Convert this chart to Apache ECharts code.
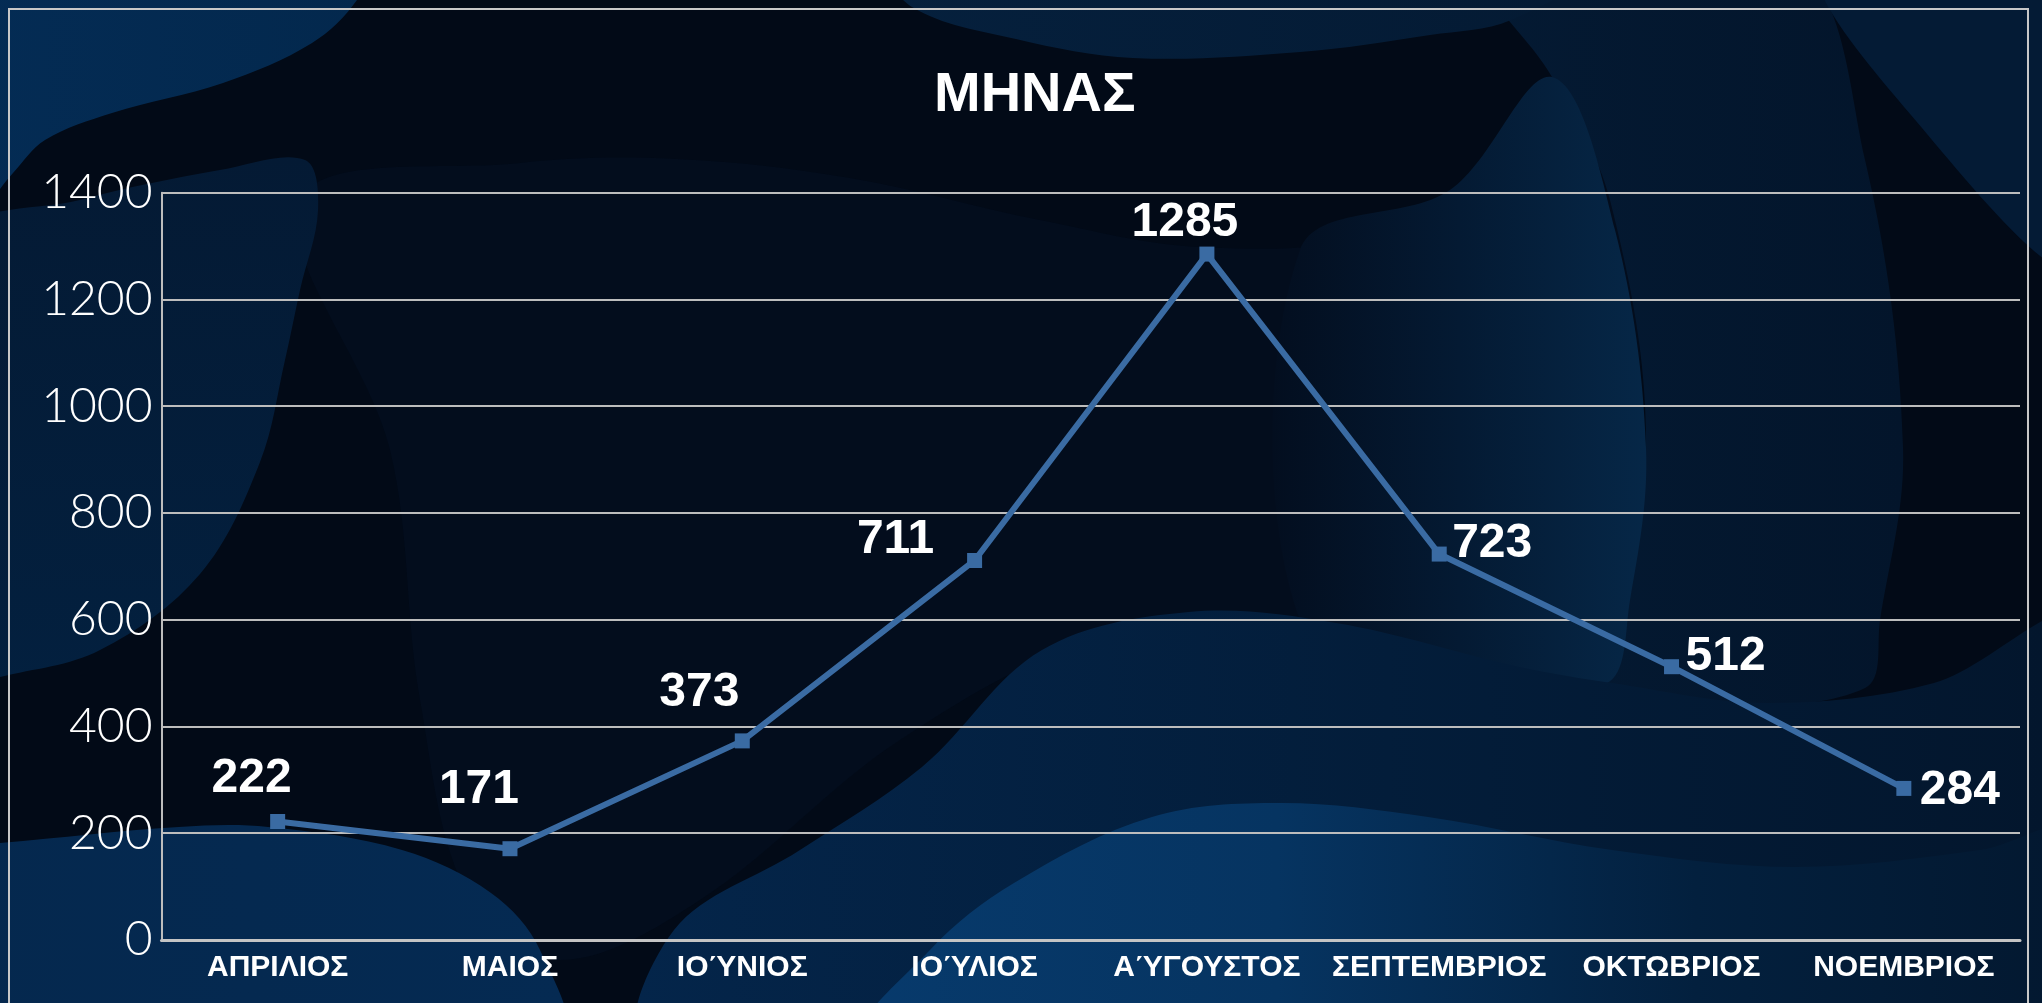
<!DOCTYPE html>
<html>
<head>
<meta charset="utf-8">
<title>ΜΗΝΑΣ</title>
<script src="https://cdn.jsdelivr.net/npm/echarts@6/dist/echarts.min.js"></script>
<style>
  html, body { margin: 0; padding: 0; background: #020a17; }
  #main { width: 2042px; height: 1003px; }
</style>
</head>
<body>
<div id="main"></div>
<script>
// data
var months = ['ΑΠΡΙΛΙΟΣ', 'ΜΑΙΟΣ', 'ΙΟΎΝΙΟΣ', 'ΙΟΎΛΙΟΣ', 'ΑΎΓΟΥΣΤΟΣ', 'ΣΕΠΤΕΜΒΡΙΟΣ', 'ΟΚΤΩΒΡΙΟΣ', 'ΝΟΕΜΒΡΙΟΣ'];
var visits = [222, 171, 373, 711, 1285, 723, 512, 284];
var yTicks = [0, 200, 400, 600, 800, 1000, 1200, 1400];

// where each value label sits relative to its point (px)
var labelShift = [[-26, -43], [-31, -59], [-43, -48], [-79, -21], [-22, -31], [53, -10], [54, -10], [56, 2]];

window.onload = function () {
	var chart = echarts.init(document.getElementById('main'));

	function blob(points, fill, z) {
		return {
			type: 'polygon',
			silent: true,
			z: z,
			shape: { points: points, smooth: 0.35 },
			style: { fill: fill }
		};
	}
	function grad(x2, y2, stops) {
		return new echarts.graphic.LinearGradient(0, 0, x2, y2, stops.map(function (c, i) {
			return { offset: i / (stops.length - 1), color: c };
		}));
	}

	// background shapes
	var bg = [
		blob([[300, 200], [520, 163], [677, 159], [850, 178], [1040, 220], [1200, 247], [1370, 235], [1500, 156], [1556, 78],
			[1620, 200], [1640, 450], [1600, 690], [1300, 640], [1100, 640], [900, 740], [700, 900], [560, 960], [470, 900], [420, 700], [390, 450]],
			'#030d1d', -30),
		blob([[1480, -40], [1790, -40], [1865, 160], [1903, 448], [1880, 620], [1865, 688], [1700, 705], [1605, 684], [1646, 448], [1610, 200], [1552, 77]],
			grad(1, 0, ['#041a33', '#03152b']), -29),
		blob([[1300, 250], [1450, 190], [1552, 77], [1615, 230], [1646, 448], [1630, 600], [1605, 684], [1450, 665], [1300, 620]],
			grad(1, 0, ['#030e1f', '#041a33', '#062747']), -28),
		blob([[1820, -40], [2080, -40], [2080, 269], [1922, 128]], '#041b35', -27),
		blob([[885, -40], [912, 7], [1016, 39], [1133, 58], [1300, 52], [1430, 35], [1511, 20], [1602, -40]],
			grad(1, 0, ['#05203d', '#041a33']), -26),
		blob([[-40, 240], [80, 200], [220, 170], [305, 160], [318, 210], [300, 290], [285, 360], [260, 462], [200, 574], [100, 650], [0, 677], [-40, 685]],
			grad(0, 1, ['#041a34', '#03203f']), -25),
		blob([[-40, -40], [372, -40], [357, 0], [312, 43], [223, 83], [112, 113], [45, 140], [13, 173], [-40, 230]],
			grad(1, 0, ['#042c55', '#03284d']), -24),
		blob([[674, 930], [800, 850], [922, 767], [1042, 650], [1189, 612], [1336, 623], [1520, 667], [1612, 683], [1768, 703], [1934, 683], [2080, 620],
			[2080, 1040], [650, 1040]],
			grad(1, 0, ['#04254a', '#031d3a', '#03152b']), -23),
		blob([[867, 1040], [930, 950], [1014, 883], [1152, 817], [1281, 803], [1428, 817], [1612, 850], [1796, 867], [1980, 850], [2080, 830], [2080, 1040]],
			grad(1, 0, ['#073a6c', '#063461', '#03203e', '#03172e']), -22),
		blob([[-40, 845], [0, 843], [179, 827], [268, 827], [402, 850], [491, 893], [540, 950], [558, 1040], [-40, 1040]],
			grad(1, 0, ['#05284e', '#052a52']), -21),
		{
			type: 'rect',
			silent: true,
			z: -5,
			shape: { x: 9, y: 9, width: 2019, height: 1010 },
			style: { fill: 'none', stroke: '#c8c8c8', lineWidth: 2 }
		}
	];

	var points = visits.map(function (v, i) {
		return { value: v, label: { offset: labelShift[i] } };
	});

	var option = {
		backgroundColor: '#020a17',
		animation: false,
		graphic: bg,
		title: {
			text: 'ΜΗΝΑΣ',
			left: 929,
			top: 63,
			textStyle: {
				color: '#ffffff',
				fontSize: 56,
				fontWeight: 'bold',
				fontFamily: 'Liberation Sans'
			}
		},
		grid: {
			left: 161.5,
			right: 22,
			top: 192.7,
			bottom: 63
		},
		xAxis: {
			type: 'category',
			data: months,
			boundaryGap: true,
			axisTick: { show: false },
			axisLine: { lineStyle: { color: '#c4c4c4', width: 3 } },
			axisLabel: {
				color: '#ffffff',
				fontSize: 30,
				fontWeight: 'bold',
				fontFamily: 'Liberation Sans',
				margin: 13,
				interval: 0
			}
		},
		yAxis: {
			type: 'value',
			min: yTicks[0],
			max: yTicks[yTicks.length - 1],
			interval: yTicks[1] - yTicks[0],
			axisLine: { show: true, lineStyle: { color: '#bdbdbd', width: 2 } },
			axisTick: { show: false },
			splitLine: { lineStyle: { color: '#bdbdbd', width: 2 } },
			axisLabel: {
				color: '#ffffff',
				fontSize: 48,
				fontWeight: 300,
				fontFamily: 'Lato',
				margin: 9,
				formatter: function (v) { return String(v); }
			}
		},
		series: [
			{
				type: 'line',
				data: points,
				symbol: 'rect',
				symbolSize: 15,
				color: '#3a6ba3',
				lineStyle: { color: '#3a6ba3', width: 6 },
				itemStyle: { color: '#3a6ba3' },
				label: {
					show: true,
					position: 'inside',
					color: '#ffffff',
					fontSize: 48,
					fontWeight: 'bold',
					fontFamily: 'Liberation Sans',
					formatter: '{c}'
				}
			}
		]
	};

	chart.setOption(option);
};
</script>
</body>
</html>
